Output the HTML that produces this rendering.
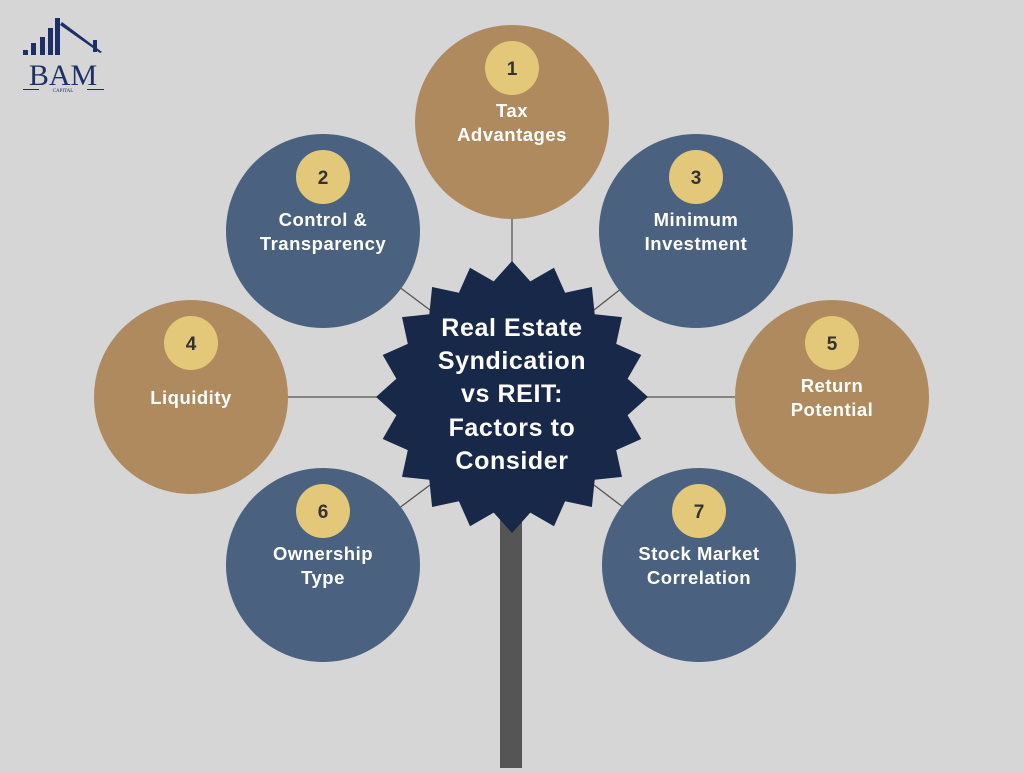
<!DOCTYPE html>
<html><head><meta charset="utf-8"><style>
html,body{margin:0;padding:0;background:#d6d6d6;}
body{width:1024px;height:768px;overflow:hidden;font-family:"Liberation Sans",sans-serif;}
</style></head><body>
<svg id="s" width="1024" height="768" viewBox="0 0 1024 768" xmlns="http://www.w3.org/2000/svg" font-family="Liberation Sans, sans-serif">
<rect width="1024" height="768" fill="#d6d6d6"/>
<g fill="#1d2f66">
<rect x="23" y="50" width="5" height="5"/>
<rect x="31" y="43" width="5" height="12"/>
<rect x="40" y="37" width="5" height="18"/>
<rect x="48" y="28" width="5" height="27"/>
<rect x="55" y="18" width="5" height="37"/>
<rect x="93" y="40" width="4" height="12"/>
<polygon points="60,25 62,22 102,52 100,53"/>
<text x="63" y="85" font-family="Liberation Serif, serif" font-size="30" text-anchor="middle">BAM</text>
<rect x="23" y="89" width="16" height="1"/><rect x="87" y="89" width="17" height="1"/>
<text x="63" y="92" font-family="Liberation Serif, serif" font-size="5" text-anchor="middle">CAPITAL</text>
</g>
<rect x="500" y="500" width="22" height="268" fill="#555555"/>
<g stroke="#555" stroke-width="1.3">
<line x1="512" y1="219" x2="512" y2="270"/>
<line x1="323" y1="230" x2="430" y2="310"/>
<line x1="696" y1="230" x2="594" y2="310"/>
<line x1="286" y1="397" x2="380" y2="397"/>
<line x1="644" y1="397" x2="736" y2="397"/>
<line x1="323" y1="565" x2="430" y2="485"/>
<line x1="699" y1="565" x2="594" y2="485"/>
</g>
<polygon id="star" fill="#172848"/>
<g id="c"></g>
<g fill="#fff" font-weight="bold" font-size="25" text-anchor="middle" letter-spacing="0.6">
<text x="512" y="336">Real Estate</text>
<text x="512" y="369">Syndication</text>
<text x="512" y="402">vs REIT:</text>
<text x="512" y="436">Factors to</text>
<text x="512" y="469">Consider</text>
</g>
</svg>
<script>
var pts=[],cx=512,cy=397,n=20;
for(var i=0;i<2*n;i++){var r=i%2?117:136;var a=Math.PI*i/n-Math.PI/2;pts.push((cx+r*Math.cos(a)).toFixed(1)+","+(cy+r*Math.sin(a)).toFixed(1));}
document.getElementById('star').setAttribute('points',pts.join(' '));
var G="#b08a5f",B="#4a6180";
var cs=[[512,122,G,"1",["Tax","Advantages"]],[323,231,B,"2",["Control &","Transparency"]],[696,231,B,"3",["Minimum","Investment"]],[191,397,G,"4",["Liquidity"]],[832,397,G,"5",["Return","Potential"]],[323,565,B,"6",["Ownership","Type"]],[699,565,B,"7",["Stock Market","Correlation"]]];
var h="";
cs.forEach(function(c){
h+='<circle cx="'+c[0]+'" cy="'+c[1]+'" r="97" fill="'+c[2]+'"/>';
h+='<circle cx="'+c[0]+'" cy="'+(c[1]-54)+'" r="27" fill="#e3c87a"/>';
h+='<text x="'+c[0]+'" y="'+(c[1]-47)+'" font-size="19" font-weight="bold" fill="#333" text-anchor="middle">'+c[3]+'</text>';
var ls=c[4];
ls.forEach(function(l,k){var y=ls.length==1?c[1]+7:c[1]-5+k*24;
h+='<text x="'+c[0]+'" y="'+y+'" font-size="18.5" font-weight="bold" fill="#fff" text-anchor="middle" letter-spacing="0.5">'+l.replace("&","&amp;")+'</text>';});
});
document.getElementById('c').innerHTML=h;
</script>
</body></html>
